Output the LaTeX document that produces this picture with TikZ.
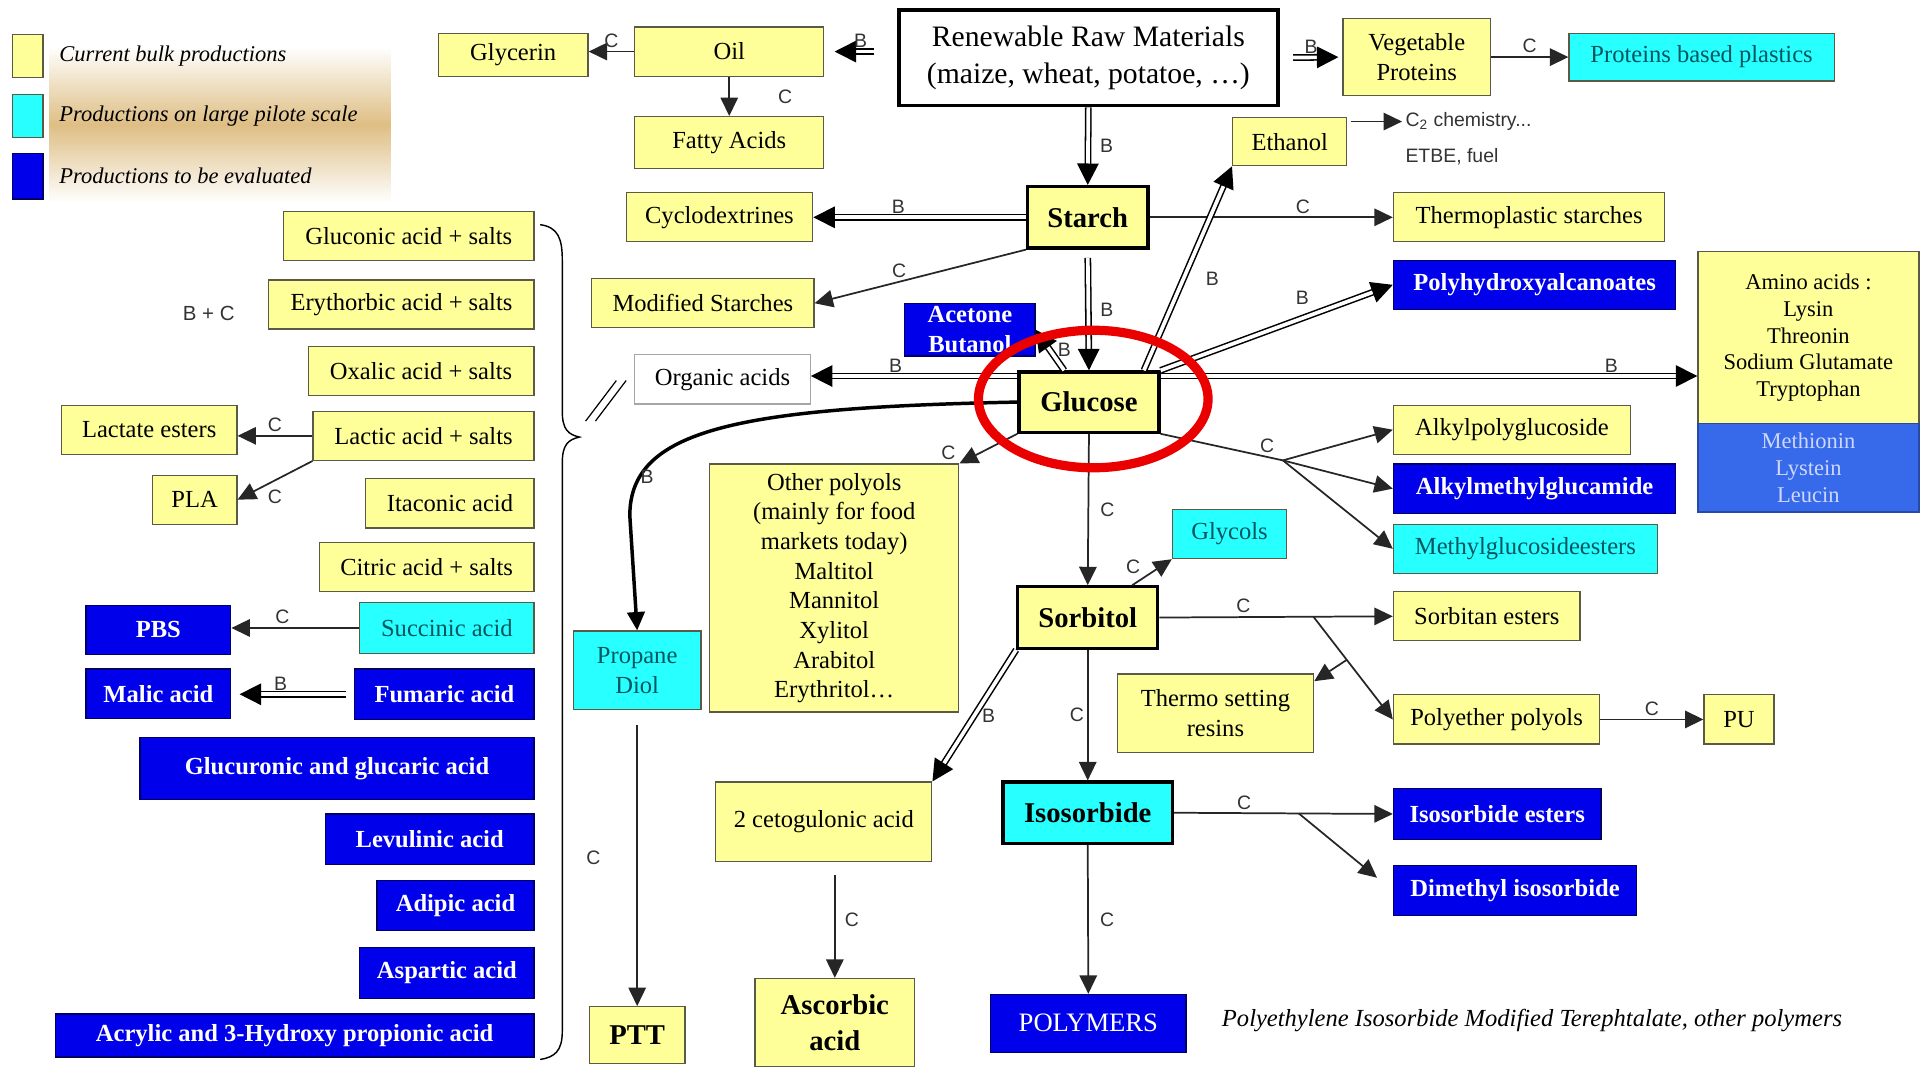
\documentclass[tikz,border=0pt]{standalone}
\usepackage{fontspec}
\setmainfont{Liberation Serif}
\setsansfont{Liberation Sans}
\usepackage{tikz}
\usetikzlibrary{arrows.meta, positioning}
\definecolor{yfill}{RGB}{255,255,153}
\definecolor{cfill}{RGB}{40,255,255}
\definecolor{bfill}{RGB}{0,0,235}
\definecolor{mfill}{RGB}{55,105,235}
\definecolor{bord}{RGB}{90,90,70}
\definecolor{ctext}{RGB}{0,85,95}
\definecolor{mtext}{RGB}{205,215,255}
\definecolor{legbg}{RGB}{222,190,132}
\definecolor{ringred}{RGB}{235,0,0}
\tikzset{
  sz/.style 2 args={minimum width=#1*0.6pt,minimum height=#2*0.6pt},
  ybox/.style={rectangle,draw=bord,line width=0.6pt,fill=yfill,inner sep=1pt,align=center,font=\fontsize{12}{14.5}\selectfont},
  wbox/.style={ybox,fill=white,draw=gray!70},
  cbox/.style={ybox,fill=cfill,text=ctext},
  bbox/.style={ybox,fill=bfill,draw=blue!40!black,text=white,font=\fontsize{12}{14.5}\selectfont\bfseries},
  mbox/.style={ybox,fill=mfill,draw=mfill!70!black,text=mtext,font=\fontsize{11}{13}\selectfont},
  ybig/.style={ybox,font=\fontsize{14}{18}\selectfont\bfseries},
  kbox/.style={ybox,draw=black,line width=1.6pt,font=\fontsize{14}{16}\selectfont\bfseries},
  rbox/.style={ybox,fill=white,draw=black,line width=1.8pt,font=\fontsize{14.5}{18}\selectfont},
  legtxt/.style={inner sep=0pt,font=\fontsize{11}{13}\selectfont\itshape},
  arr/.style={-{Triangle[length=9pt,width=8.5pt]},line width=0.85pt,draw=black!85},
  darr/.style={-{Triangle[length=10.5pt,width=10.5pt]},double=white,double distance=1.8pt,line width=0.75pt},
  thk/.style={-{Triangle[length=9pt,width=8.5pt]},line width=1.7pt},
  lbl/.style={inner sep=1.5pt,text=black!80,font=\sffamily\fontsize{9.5}{11}\selectfont}
}
\begin{document}
\begin{tikzpicture}[x=0.6pt,y=-0.6pt]
  \useasboundingbox (0,0) rectangle (1568,869);

  % Legend
  \shade[top color=white,bottom color=white,middle color=legbg] (40,38) rectangle (318,165);
  \node[ybox,sz={25}{35}] (ly) at (22.5,45.5) {};
  \node[cbox,sz={25}{35}] (lc) at (22.5,94.5) {};
  \node[bbox,sz={25}{37}] (lb) at (22.5,143.5) {};
  \node[legtxt,right=7.5pt of ly] (lyt) {Current bulk productions};
  \node[legtxt,right=7.5pt of lc] (lct) {Productions on large pilote scale};
  \node[legtxt,right=7.5pt of lb] (lbt) {Productions to be evaluated};

  % Raw materials
  \node[rbox,sz={309}{78}] (rrm) at (886.5,47) {Renewable Raw Materials\\(maize, wheat, potatoe, …)};
  \node[ybox,sz={154}{40}] (oil) at (594,42) {Oil};
  \node[ybox,sz={122}{35}] (gly) at (418,44.5) {Glycerin};
  \node[ybox,sz={154}{42}] (fat) at (594,116) {Fatty Acids};
  \node[ybox,sz={120}{63}] (veg) at (1154,46.5) {Vegetable\\Proteins};
  \node[cbox,sz={216}{39}] (ppp) at (1386,46.5) {Proteins based plastics};
  \node[ybox,sz={93}{39}] (eth) at (1050.5,115.5) {Ethanol};
  \node[lbl,anchor=west] (c2) at (1142,99) {C\textsubscript{2} chemistry...};
  \node[lbl,anchor=west] (etbe) at (1142,128) {ETBE, fuel};

  % Starch
  \node[kbox,sz={98}{50}] (starch) at (886,177) {Starch};
  \node[ybox,sz={152}{40}] (cyc) at (586,177) {Cyclodextrines};
  \node[ybox,sz={221}{40}] (tps) at (1245.5,177) {Thermoplastic starches};
  \node[ybox,sz={181}{40}] (mod) at (572.5,247) {Modified Starches};
  \node[bbox,sz={230}{40}] (pha) at (1250,232) {Polyhydroxyalcanoates};
  \node[bbox,sz={106}{43}] (ace) at (790,268.5) {Acetone\\Butanol};
  \node[wbox,sz={143}{40}] (org) at (588.5,309) {Organic acids};

  % Glucose
  \node[kbox,sz={114}{49}] (glu) at (887,327.5) {Glucose};
  \node[ybox,sz={180}{140},font=\fontsize{11}{13}\selectfont] (amy) at (1473,275) {Amino acids :\\Lysin\\Threonin\\Sodium Glutamate\\Tryptophan};
  \node[mbox,sz={180}{72}] (amb) at (1473,381) {Methionin\\Lystein\\Leucin};
  \node[ybox,sz={193}{40}] (apg) at (1231.5,350) {Alkylpolyglucoside};
  \node[bbox,sz={230}{40}] (amg) at (1250,398) {Alkylmethylglucamide};
  \node[cbox,sz={215}{40}] (mge) at (1242.5,447) {Methylglucosideesters};
  \node[ybox,sz={203}{202}] (poly) at (679.5,479) {Other polyols\\(mainly for food\\markets today)\\Maltitol\\Mannitol\\Xylitol\\Arabitol\\Erythritol…};
  \node[cbox,sz={104}{64}] (pd) at (519,546) {Propane\\Diol};
  \node[ybig,sz={78}{46}] (ptt) at (519,843) {PTT};
  \coordinate (brg) at (1045,375);

  % Sorbitol
  \node[kbox,sz={114}{50}] (sor) at (886,503) {Sorbitol};
  \node[cbox,sz={93}{40}] (gly2) at (1001.5,435) {Glycols};
  \node[ybox,sz={152}{40}] (sbe) at (1211,502) {Sorbitan esters};
  \node[ybox,sz={160}{64}] (tsr) at (990,581) {Thermo setting\\resins};
  \node[ybox,sz={168}{40}] (pep) at (1219,586) {Polyether polyols};
  \node[ybox,sz={57}{40}] (pu) at (1416.5,586) {PU};
  \node[ybox,sz={176}{65}] (ceto) at (671,669.5) {2 cetogulonic acid};
  \node[ybig,sz={130}{72}] (asc) at (680,833) {Ascorbic\\acid};
  \node[kbox,fill=cfill,sz={138}{50}] (iso) at (886,662) {Isosorbide};
  \node[bbox,sz={169}{42}] (ise) at (1219.5,663) {Isosorbide esters};
  \node[bbox,sz={198}{41}] (dmi) at (1234,725.5) {Dimethyl isosorbide};
  \node[bbox,sz={159}{47},font=\fontsize{13}{15}\selectfont] (pol) at (886.5,833.5) {POLYMERS};
  \node[legtxt,font=\fontsize{12}{14}\selectfont\itshape,anchor=west] (note) at (995,831) {Polyethylene Isosorbide Modified Terephtalate, other polymers};

  % Organic acids column
  \node[ybox,sz={204}{40}] (glc) at (333,192) {Gluconic acid + salts};
  \node[ybox,sz={216}{40}] (ery) at (327,248) {Erythorbic acid + salts};
  \node[ybox,sz={184}{40}] (oxa) at (343,302) {Oxalic acid + salts};
  \node[ybox,sz={180}{40}] (lac) at (345,355) {Lactic acid + salts};
  \node[ybox,sz={137}{40}] (ita) at (366.5,410) {Itaconic acid};
  \node[ybox,sz={175}{40}] (cit) at (347.5,462) {Citric acid + salts};
  \node[cbox,sz={142}{41}] (suc) at (364,511.5) {Succinic acid};
  \node[bbox,sz={146}{41}] (fum) at (362,565.5) {Fumaric acid};
  \node[bbox,sz={321}{50}] (gga) at (274.5,626) {Glucuronic and glucaric acid};
  \node[bbox,sz={170}{41}] (lev) at (350,683.5) {Levulinic acid};
  \node[bbox,sz={128}{41}] (adi) at (371,737.5) {Adipic acid};
  \node[bbox,sz={142}{41}] (asp) at (364,792.5) {Aspartic acid};
  \node[bbox,sz={390}{35}] (acr) at (240,843.5) {Acrylic and 3-Hydroxy propionic acid};
  \node[ybox,sz={143}{40}] (lace) at (121.5,350) {Lactate esters};
  \node[ybox,sz={69}{40}] (pla) at (158.5,407) {PLA};
  \node[bbox,sz={118}{40}] (pbs) at (129,513) {PBS};
  \node[bbox,sz={118}{40}] (mal) at (129,565) {Malic acid};
  \node[lbl,font=\sffamily\fontsize{10}{12}\selectfont] (bpc) at (170,255) {B + C};

  % Brace and link to organic acids
  \draw[line width=0.7pt] (440,183) .. controls (455,185) and (458,195) .. (458,212) -- (458,335)
    .. controls (458,350) and (463,354) .. (472,356) .. controls (463,358) and (458,362) .. (458,377)
    -- (458,840) .. controls (458,856) and (452,861) .. (440,863);
  \draw[line width=0.6pt] (477,343) -- (502,310);
  \draw[line width=0.6pt] (485,343) -- (510,310);

  % Connectors from raw materials
  \draw[darr,shorten <=11pt,shorten >=5pt] (rrm.west |- oil.east) -- node[lbl,above]{B} (oil.east);
  \draw[darr,shorten <=6.5pt,shorten >=2pt] (rrm.east) -- node[lbl,above]{B} (veg.west);
  \draw[arr] (veg.east) -- node[lbl,above]{C} (ppp.west);
  \draw[arr] (oil.west) -- node[lbl,above]{C} (gly.east |- oil.west);
  \draw[arr] (oil.south) -- node[lbl,right=22pt]{C} (fat.north);
  \draw[darr] (rrm.south) -- node[lbl,right=4pt]{B} (starch.north);
  \draw[arr,shorten <=2pt] (eth.east |- c2.west) -- (c2.west);

  % Connectors from starch
  \draw[darr] (starch.west) -- node[lbl,above,pos=0.6]{B} (cyc.east);
  \draw[arr] (starch.east) -- node[lbl,above,pos=0.63]{C} (tps.west);
  \draw[arr] (starch.south west) -- node[lbl,above,pos=0.6]{C} (mod.east);
  \draw[darr,shorten <=4pt] (starch.south) -- node[lbl,right=4pt]{B} (glu.north);

  % Connectors from glucose
  \draw[darr] (glu.30) -- node[lbl,right=9pt,pos=0.45]{B} (eth.south west);
  \draw[darr] (glu.128) -- node[lbl,right=2pt]{B} (ace.east);
  \draw[darr] (glu.160) -- node[lbl,above,pos=0.59]{B} (org.east |- glu.160);
  \draw[darr] (glu.20) -- node[lbl,above,pos=0.84]{B} (amy.west |- glu.20);
  \draw[darr] (glu.north east) -- node[lbl,above=5pt,pos=0.61]{B} (pha.west);
  \draw[line width=0.85pt,draw=black!85] (glu.south east) -- node[lbl,above,pos=0.87]{C} (brg);
  \draw[arr] (brg) -- (apg.west);
  \draw[arr] (brg) -- (amg.west);
  \draw[arr] (brg) -- (mge.west);
  \draw[arr] (glu.south west) -- node[lbl,pos=1,above left=0pt]{C} (poly.north east);
  \draw[thk] (glu.west) .. controls (600,332) and (513,350) .. (513,420) -- (pd.north);
  \node[lbl] (bcurve) at (527,388) {B};
  \draw[arr,shorten <=7pt] (pd.south) -- node[lbl,left=16pt]{C} (ptt.north);
  \draw[arr] (glu.south) -- node[lbl,right=4pt]{C} (sor.north);

  % Connectors from sorbitol
  \draw[arr] (sor.36) -- node[lbl,pos=0.3,above left=0pt]{C} (gly2.south west);
  \draw[arr] (sor.east) -- node[lbl,above,pos=0.36]{C} coordinate[pos=0.66] (br2) (sbe.west);
  \draw[arr] (br2) -- coordinate[pos=0.42] (br3) (pep.west);
  \draw[arr] (br3) -- (tsr.18);
  \draw[arr] (pep.east) -- node[lbl,above]{C} (pu.west);
  \draw[darr] (sor.south west) -- node[lbl,right=2pt]{B} (ceto.north east);
  \draw[arr,shorten <=6pt] (asc.north |- ceto.south) -- node[lbl,right=3pt]{C} (asc.north);
  \draw[arr] (sor.south) -- node[lbl,left=0pt]{C} (iso.north);

  % Connectors from isosorbide
  \draw[arr] (iso.east) -- node[lbl,above,pos=0.32]{C} coordinate[pos=0.57] (br4) (ise.west);
  \draw[arr,shorten >=10pt] (br4) -- (dmi.west);
  \draw[arr] (iso.south) -- node[lbl,right=4pt]{C} (pol.north);

  % Organic acid products
  \draw[arr] (lac.west) -- node[lbl,above]{C} (lace.east |- lac.west);
  \draw[arr] (lac.south west) -- node[lbl,below=3pt]{C} (pla.east);
  \draw[arr] (suc.west) -- node[lbl,above,pos=0.6]{C} (pbs.east |- suc.west);
  \draw[darr,shorten <=4pt,shorten >=4pt] (fum.west) -- node[lbl,above,pos=0.6]{B} (mal.east |- fum.west);

  % Highlight
  \draw[ringred,line width=4.5pt] (890.5,325) ellipse [x radius=93.5,y radius=56];
\end{tikzpicture}
\end{document}
